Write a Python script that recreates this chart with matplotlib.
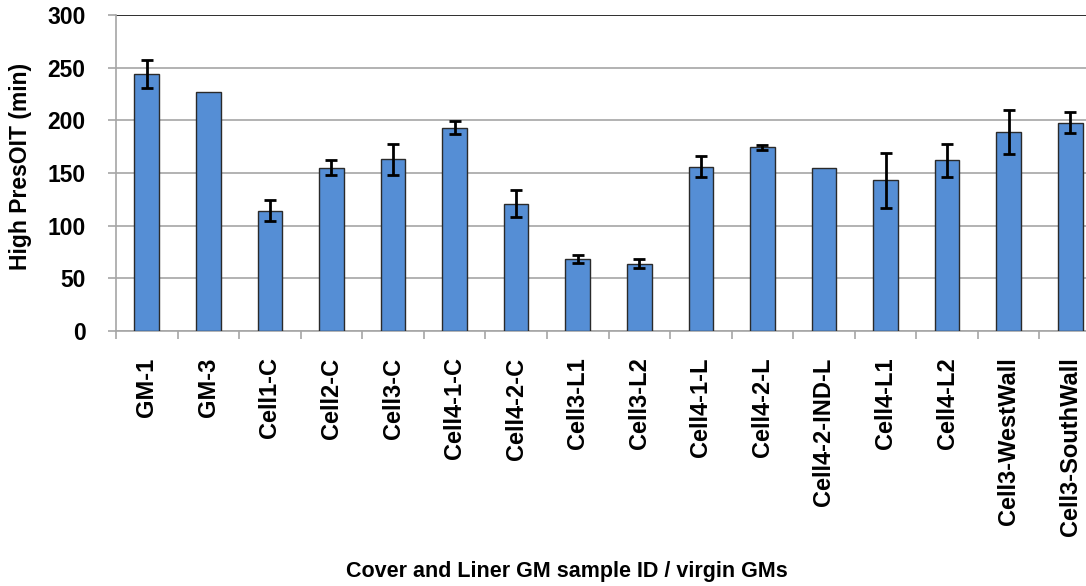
import matplotlib
matplotlib.use("Agg")
import matplotlib.pyplot as plt
import numpy as np

categories = ["GM-1", "GM-3", "Cell1-C", "Cell2-C", "Cell3-C", "Cell4-1-C", "Cell4-2-C",
              "Cell3-L1", "Cell3-L2", "Cell4-1-L", "Cell4-2-L", "Cell4-2-IND-L",
              "Cell4-L1", "Cell4-L2", "Cell3-WestWall", "Cell3-SouthWall"]
values = [244, 227, 114, 155, 163, 193, 121, 68.5, 64, 156, 174.5, 155, 143, 162, 189, 197.5]
errors = [13, 0, 10, 7, 15, 6, 13, 3.5, 4, 10, 2.5, 0, 26, 16, 21, 10]
yticks = [0, 50, 100, 150, 200, 250, 300]

plt.rcParams['font.family'] = ['Liberation Sans', 'DejaVu Sans']
plt.rcParams['font.weight'] = 'bold'

W, H = 1086, 586
fig = plt.figure(figsize=(W / 100, H / 100), dpi=100)
ax_l, ax_r, ax_t, ax_b = 116, 1101, 15, 331
ax = fig.add_axes([ax_l / W, 1 - ax_b / H, (ax_r - ax_l) / W, (ax_b - ax_t) / H])

x = np.arange(len(categories))
yerr = np.array(errors, dtype=float)
ax.bar(x, values, width=0.4, color="#558ED5", edgecolor="#2a2a2a", linewidth=1.0, zorder=3)
mask = yerr > 0
ax.errorbar(x[mask], np.array(values)[mask], yerr=yerr[mask], fmt="none", ecolor="black",
            elinewidth=2.0, capsize=4.2, capthick=2.0, zorder=4)

ax.set_xlim(-0.5, len(categories) - 0.5)
ax.set_ylim(0, 300)
ax.set_yticks(yticks)
ax.set_yticklabels([str(t) for t in yticks], fontsize=16.5, fontweight='bold')
ax.grid(axis='y', color="#a6a6a6", linewidth=1.2, zorder=0)
ax.axhline(300, color="#303030", linewidth=1.4, zorder=2)

ax.set_xticks(x)
ax.set_xticklabels(categories, rotation=90, fontsize=17, fontweight='bold', va='top')
ax.tick_params(axis='x', which='major', length=0, pad=19)
ax.set_xticks(np.arange(len(categories) + 1) - 0.5, minor=True)
ax.tick_params(axis='x', which='minor', length=6, color="#a6a6a6", width=1.2)
ax.tick_params(axis='y', length=6, color="#a6a6a6", width=1.2, pad=16)

for s in ['top', 'right']:
    ax.spines[s].set_visible(False)
for s in ['left', 'bottom']:
    ax.spines[s].set_color("#a6a6a6")
    ax.spines[s].set_linewidth(1.2)

fig.text(21 / W, 1 - 166 / H, "High PresOIT (min)", rotation=90, ha='center', va='center',
         fontsize=16.5, fontweight='bold')
fig.text(567 / W, 1 - 572 / H, "Cover and Liner GM sample ID / virgin GMs", ha='center',
         va='center', fontsize=15.5, fontweight='bold')

fig.savefig("out.png", dpi=100)
